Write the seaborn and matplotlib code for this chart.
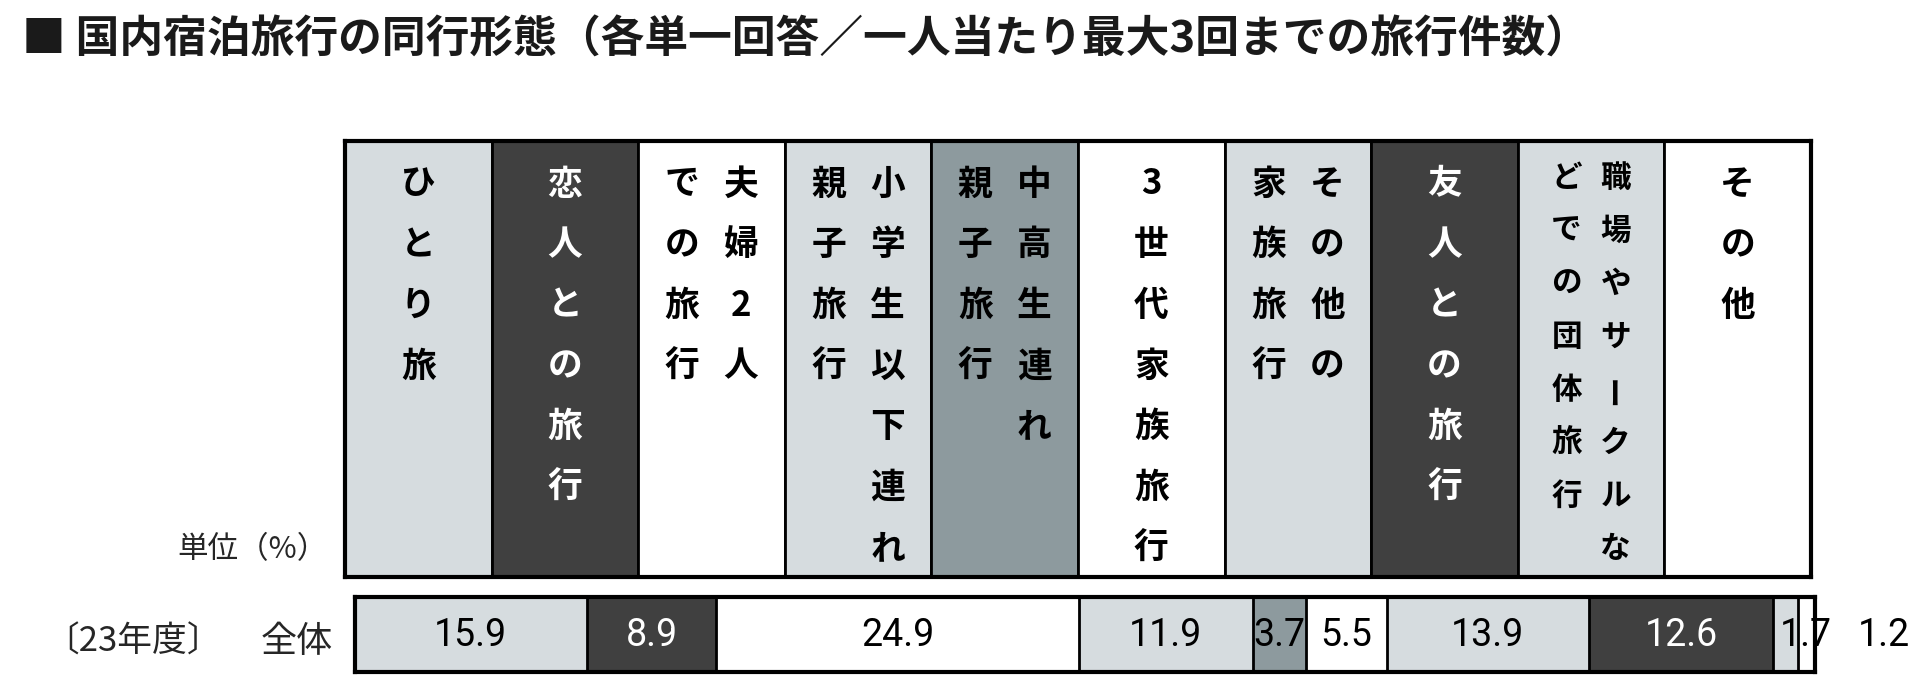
import matplotlib
matplotlib.use("Agg")
import matplotlib.pyplot as plt
import numpy as np
import pandas as pd
import seaborn as sns

# ---------------------------------------------------------------------------
# Data
# ---------------------------------------------------------------------------
TITLE = "■ 国内宿泊旅行の同行形態（各単一回答／一人当たり最大3回までの旅行件数）"

# header columns, each a list of vertical lines (right line first)
categories = [
    ["ひとり旅"],
    ["恋人との旅行"],
    ["夫婦2人", "での旅行"],
    ["小学生以下連れ", "親子旅行"],
    ["中高生連れ", "親子旅行"],
    ["3世代家族旅行"],
    ["その他の", "家族旅行"],
    ["友人との旅行"],
    ["職場やサークルな", "どでの団体旅行"],
    ["その他"],
]
shares = [15.9, 8.9, 24.9, 11.9, 3.7, 5.5, 13.9, 12.6, 1.7, 1.2]
row_label = "全体"
year_label = "〔23年度〕"
unit_label = "単位（%）"

LIGHT, DARK, SLATE, WHITE = "#d4dce0", "#404040", "#8a9ba1", "#ffffff"
colors = [LIGHT, DARK, WHITE, LIGHT, SLATE, WHITE, LIGHT, DARK, LIGHT, WHITE]

W, H = 1920, 686
JP = ["Noto Sans CJK JP", "DejaVu Sans"]


def px_box(left, top, right, bottom):
    return [left / W, 1 - bottom / H, (right - left) / W, (bottom - top) / H]


sns.set_theme(style="white")
plt.rcParams["font.family"] = JP

fig = plt.figure(figsize=(W / 100, H / 100), dpi=100)
fig.patch.set_facecolor("white")

fig.text(22 / W, 1 - 40 / H, TITLE, fontsize=31.5, fontweight="bold",
         va="center", ha="left", color="#1a1a1a")

# ---------------------------------------------------------------------------
# Header: equal width columns with vertical text
# ---------------------------------------------------------------------------
hdr = fig.add_axes(px_box(345, 141, 1811, 577))
hdr_df = pd.DataFrame({"cat": ["".join(c) for c in categories],
                       "h": np.ones(len(categories))})
sns.barplot(data=hdr_df, x="cat", y="h", hue="cat", palette=colors,
            width=1.0, edgecolor="black", linewidth=2, legend=False, ax=hdr)
hdr.set_xlim(-0.5, len(categories) - 0.5)
hdr.set_ylim(0, 1)
hdr.set_xticks([])
hdr.set_yticks([])
hdr.set_xlabel("")
hdr.set_ylabel("")
for sp in hdr.spines.values():
    sp.set_visible(True)
    sp.set_linewidth(3)
    sp.set_color("black")

hdr_h = 577 - 141
col_w = (1811 - 345) / len(categories)
for i, lines in enumerate(categories):
    tc = "white" if colors[i] == DARK else "black"
    n = len(lines)
    compact = max(len(l) for l in lines) > 7
    first_px, step_px = (178, 53) if compact else (184, 60.7)
    first_px -= 141
    gap_px = 24.5 if compact else 29.5
    fs = 22 if compact else 25
    for j, line in enumerate(lines):
        # right line first, vertical writing
        dx = ((n - 1) / 2 - j) * 2 * gap_px / col_w
        for k, ch in enumerate(line):
            y = 1 - (first_px + k * step_px) / hdr_h
            hdr.text(i + dx, y, ch, ha="center", va="center",
                     fontsize=fs, fontweight="bold", color=tc,
                     rotation=90 if ch == "ー" else 0,
                     transform=hdr.get_xaxis_transform())

# ---------------------------------------------------------------------------
# Stacked 100% bar
# ---------------------------------------------------------------------------
bar = fig.add_axes(px_box(355, 597, 1815, 672))
cum = np.cumsum(shares)
seg_df = pd.DataFrame({"seg": [f"s{i}" for i in range(len(shares))],
                       "cum": cum, "row": row_label})
order = list(seg_df["seg"][::-1])  # longest first so shorter ones sit on top
pal = dict(zip(seg_df["seg"], colors))
sns.barplot(data=seg_df, x="cum", y="row", hue="seg", hue_order=order,
            palette=pal, dodge=False, width=1.0, edgecolor="black",
            linewidth=2, legend=False, orient="h", ax=bar)
bar.set_xlim(0, cum[-1])
bar.set_ylim(0.5, -0.5)
bar.set_xticks([])
bar.set_yticks([])
bar.set_xlabel("")
bar.set_ylabel("")
for sp in bar.spines.values():
    sp.set_visible(True)
    sp.set_linewidth(3)
    sp.set_color("black")

for i, v in enumerate(shares):
    x = cum[i] - v / 2
    if i == len(shares) - 2:
        x = cum[i + 1] - shares[i + 1] / 2
    elif i == len(shares) - 1:
        x = cum[-1] + 4.7
    tc = "white" if colors[i] == DARK else "black"
    bar.text(x, 0.02, f"{v:.1f}", ha="center", va="center", fontsize=27,
             family=["Roboto", "DejaVu Sans"], color=tc, clip_on=False)

# ---------------------------------------------------------------------------
# Side labels
# ---------------------------------------------------------------------------
fig.text(328 / W, 1 - 550 / H, unit_label, fontsize=22, ha="right", va="center")
fig.text(44 / W, 1 - 642 / H, year_label, fontsize=25, ha="left", va="center")
fig.text(333 / W, 1 - 642 / H, row_label, fontsize=26, ha="right", va="center")

fig.savefig("out.png", dpi=100, facecolor="white")
plt.close(fig)
